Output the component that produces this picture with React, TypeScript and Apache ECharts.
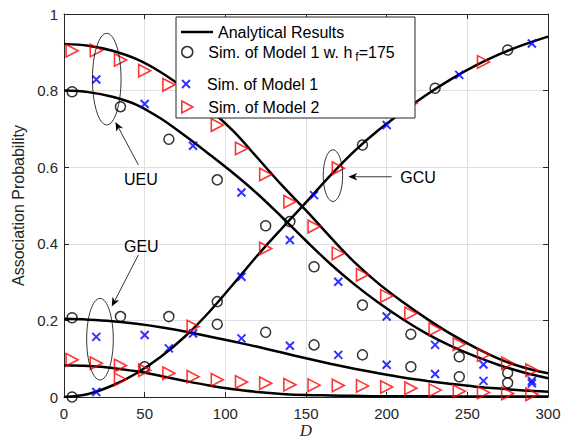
import React, { useEffect, useRef } from "react";
import * as echarts from "echarts";

// ---------- axis ticks ----------
const xTickValues = [0, 50, 100, 150, 200, 250, 300];
const yTickValues = [0, 0.2, 0.4, 0.6, 0.8, 1];

// ---------- analytical curves (sampled every 15 m of D) ----------
const curveD = [0, 15, 30, 45, 60, 75, 90, 105, 120, 135, 150, 165, 180, 195, 210, 225, 240, 255, 270, 285, 300];
const anaUEU2 = [0.922, 0.917, 0.904, 0.882, 0.848, 0.804, 0.752, 0.694, 0.624, 0.553, 0.487, 0.418, 0.352, 0.296, 0.248, 0.204, 0.164, 0.129, 0.099, 0.077, 0.062];
const anaUEU1 = [0.800, 0.796, 0.784, 0.763, 0.727, 0.682, 0.634, 0.584, 0.530, 0.470, 0.408, 0.348, 0.294, 0.246, 0.203, 0.165, 0.133, 0.106, 0.083, 0.064, 0.049];
const anaGCU = [0.000, 0.008, 0.030, 0.062, 0.105, 0.158, 0.222, 0.295, 0.370, 0.440, 0.508, 0.578, 0.642, 0.697, 0.745, 0.790, 0.830, 0.865, 0.895, 0.920, 0.941];
const anaGEU1 = [0.204, 0.202, 0.198, 0.191, 0.182, 0.171, 0.158, 0.145, 0.131, 0.116, 0.101, 0.087, 0.074, 0.062, 0.051, 0.042, 0.034, 0.027, 0.022, 0.017, 0.014];
const anaGEU2 = [0.083, 0.081, 0.076, 0.067, 0.055, 0.042, 0.030, 0.020, 0.013, 0.008, 0.005, 0.004, 0.003, 0.002, 0.002, 0.002, 0.001, 0.001, 0.001, 0.001, 0.001];

// ---------- Sim. of Model 1 w. h_f=175 (circles) ----------
const circD = [5, 35, 65, 95, 125, 155, 185, 215, 245, 275];
const circUEU = [0.797, 0.758, 0.673, 0.567, 0.447, 0.340, 0.240, 0.164, 0.105, 0.063];
const circGEU = [0.207, 0.210, 0.210, 0.190, 0.169, 0.136, 0.110, 0.079, 0.053, 0.037];
const circGcuD = [5, 50, 95, 140, 185, 230, 275];
const circGCU = [0.000, 0.079, 0.249, 0.458, 0.658, 0.806, 0.906];

// ---------- Sim. of Model 1 (crosses) ----------
const crossD = [20, 50, 80, 110, 140, 170, 200, 230, 260, 290];
const crossUEU = [0.829, 0.765, 0.656, 0.534, 0.410, 0.301, 0.210, 0.136, 0.085, 0.042];
const crossGEU = [0.157, 0.162, 0.166, 0.153, 0.134, 0.110, 0.084, 0.060, 0.042, 0.036];
const crossGcuD = [20, 65, 110, 155, 200, 245, 290];
const crossGCU = [0.013, 0.127, 0.314, 0.527, 0.710, 0.841, 0.923];

// ---------- Sim. of Model 2 (triangles) ----------
const triD = [5, 20, 35, 50, 65, 80, 95, 110, 125, 140, 155, 170, 185, 200, 215, 230, 245, 260, 275, 290];
const triUEU = [0.904, 0.905, 0.880, 0.852, 0.815, 0.770, 0.710, 0.649, 0.581, 0.510, 0.445, 0.375, 0.319, 0.264, 0.218, 0.177, 0.138, 0.110, 0.088, 0.070];
const triGEU = [0.097, 0.088, 0.082, 0.070, 0.062, 0.053, 0.045, 0.039, 0.036, 0.032, 0.031, 0.030, 0.029, 0.026, 0.023, 0.018, 0.015, 0.012, 0.009, 0.007];
const triGcuD = [35, 80, 125, 170, 215, 260];
const triGCU = [0.046, 0.184, 0.388, 0.597, 0.767, 0.875];

// ---------- names ----------
const NAME_ANA = "Analytical Results";
const NAME_C = "Sim. of Model 1 w. hf=175";
const NAME_X = "Sim. of Model 1";
const NAME_T = "Sim. of Model 2";

// ---------- annotations (data coords) ----------
const annotations = [
  { label: "UEU", ellipse: [26.5, 0.83], rx: 14.3, ry: 45.8, tail: [46.1, 0.606], tip: [31.9, 0.718], text: [47.7, 0.569] },
  { label: "GCU", ellipse: [166.7, 0.578], rx: 9.7, ry: 25.8, tail: [203.1, 0.575], tip: [176.2, 0.575], text: [219.4, 0.574] },
  { label: "GEU", ellipse: [22.3, 0.151], rx: 13.3, ry: 40.8, tail: [46.1, 0.371], tip: [29.6, 0.236], text: [47.9, 0.393] },
];

const FONT = "'Liberation Sans', Arial, Helvetica, sans-serif";
const AX = "#262626";
const GRIDC = "#e0e0e0";

const zip = (xs: number[], ys: number[]) => xs.map((x, i) => [x, ys[i]]);

export default function App() {
  const ref = useRef<HTMLDivElement>(null);

  useEffect(() => {
    document.body.style.margin = "0";
    const el = ref.current!;
    const chart = echarts.init(el, null, { renderer: "svg" });

    const lines = [anaUEU2, anaUEU1, anaGCU, anaGEU1, anaGEU2].map((ys) => ({
      type: "line",
      name: NAME_ANA,
      data: zip(curveD, ys),
      smooth: 0.35,
      symbol: "none",
      silent: true,
      lineStyle: { color: "#000", width: 2.5 },
      itemStyle: { color: "#000" },
      z: 3,
    }));

    const circleStyle = { color: "transparent", borderColor: "#000", borderWidth: 1.5 };
    const crossStyle = { color: "transparent", borderColor: "#0000ff", borderWidth: 2 };
    const triStyle = { color: "transparent", borderColor: "#ff0000", borderWidth: 1.6 };
    const XPATH = "path://M0,0L10,10M0,10L10,0";
    const TPATH = "path://M0,0L12,6.5L0,13Z";

    const scat = (name: string, data: number[][], symbol: string, size: any, style: any) => ({
      type: "scatter",
      name,
      data,
      symbol,
      symbolSize: size,
      itemStyle: style,
      clip: false,
      silent: true,
      z: 4,
    });

    const scatters = [
      scat(NAME_C, zip(circD, circUEU), "circle", 10, circleStyle),
      scat(NAME_C, zip(circGcuD, circGCU), "circle", 10, circleStyle),
      scat(NAME_C, zip(circD, circGEU), "circle", 10, circleStyle),
      scat(NAME_X, zip(crossD, crossUEU), XPATH, 8, crossStyle),
      scat(NAME_X, zip(crossGcuD, crossGCU), XPATH, 8, crossStyle),
      scat(NAME_X, zip(crossD, crossGEU), XPATH, 8, crossStyle),
      scat(NAME_T, zip(triD, triUEU), TPATH, [12, 12.5], triStyle),
      scat(NAME_T, zip(triGcuD, triGCU), TPATH, [12, 12.5], triStyle),
      scat(NAME_T, zip(triD, triGEU), TPATH, [12, 12.5], triStyle),
    ];

    const legendBase = {
      left: 181,
      orient: "horizontal",
      padding: 0,
      itemWidth: 32,
      itemGap: 0,
      selectedMode: false,
      z: 20,
      textStyle: { fontSize: 16, fontFamily: FONT, color: "#000" },
    };

    const xMin = xTickValues[0];
    const xMax = xTickValues[xTickValues.length - 1];
    const xInt = xTickValues[1] - xTickValues[0];
    const yMin = yTickValues[0];
    const yMax = yTickValues[yTickValues.length - 1];
    const yInt = yTickValues[1] - yTickValues[0];

    const axisCommon = {
      axisLine: { show: true, onZero: false, lineStyle: { color: AX, width: 1 } },
      axisTick: { show: true, inside: true, length: 5, lineStyle: { color: AX, width: 1 } },
    };

    chart.setOption({
      animation: false,
      backgroundColor: "#fff",
      grid: { left: 64, right: 16, top: 14, bottom: 45, show: false, outerBoundsMode: "none", containLabel: false },
      xAxis: [
        {
          type: "value",
          min: xMin,
          max: xMax,
          interval: xInt,
          position: "bottom",
          name: "D",
          nameLocation: "middle",
          nameGap: 25,
          nameMoveOverlap: false,
          nameTextStyle: { fontFamily: "'Liberation Serif', 'DejaVu Serif', serif", fontStyle: "italic", fontSize: 17, color: AX },
          ...axisCommon,
          axisLabel: { color: AX, fontSize: 15, fontFamily: FONT, margin: 9 },
          splitLine: { show: true, lineStyle: { color: GRIDC, width: 1 } },
        },
        {
          type: "value",
          min: xMin,
          max: xMax,
          interval: xInt,
          position: "top",
          ...axisCommon,
          axisLabel: { show: false },
          splitLine: { show: false },
        },
      ],
      yAxis: [
        {
          type: "value",
          min: yMin,
          max: yMax,
          interval: yInt,
          position: "left",
          name: "Association Probability",
          nameLocation: "middle",
          nameGap: 38,
          nameTextStyle: { fontFamily: FONT, fontSize: 16, color: AX },
          ...axisCommon,
          axisLabel: { color: AX, fontSize: 15, fontFamily: FONT, margin: 6 },
          splitLine: { show: true, lineStyle: { color: GRIDC, width: 1 } },
        },
        {
          type: "value",
          min: yMin,
          max: yMax,
          interval: yInt,
          position: "right",
          ...axisCommon,
          axisLabel: { show: false },
          splitLine: { show: false },
        },
      ],
      legend: [
        { ...legendBase, top: 24, itemHeight: 2.5, icon: "rect", data: [NAME_ANA], itemStyle: { color: "#000", borderWidth: 0 } },
        {
          ...legendBase,
          top: 44,
          itemHeight: 11,
          data: [NAME_C],
          itemStyle: { borderWidth: 1.5 },
          formatter: () => "{a|Sim. of Model 1 w. h}{s|f}{a|=175}",
          textStyle: {
            fontSize: 16,
            fontFamily: FONT,
            color: "#000",
            rich: {
              a: { fontSize: 16, fontFamily: FONT, color: "#000", verticalAlign: "middle" },
              s: { fontSize: 12, fontFamily: FONT, color: "#000", padding: [10, 0, 0, 3], verticalAlign: "middle" },
            },
          },
        },
        { ...legendBase, top: 76, itemHeight: 8, data: [NAME_X], itemStyle: { borderWidth: 2 } },
        { ...legendBase, top: 99, itemHeight: 12, data: [NAME_T], itemStyle: { borderWidth: 1.6 } },
      ],
      series: [...lines, ...scatters],
    });

    const px = (p: number[]) => chart.convertToPixel({ gridIndex: 0 }, p) as number[];
    const graphics: any[] = [
      {
        type: "rect",
        z: 10,
        shape: { x: 176, y: 17, width: 239, height: 101 },
        style: { fill: "#fff", stroke: AX, lineWidth: 1 },
      },
    ];
    annotations.forEach((a) => {
      const c = px(a.ellipse);
      const t0 = px(a.tail);
      const t1 = px(a.tip);
      const tx = px(a.text);
      graphics.push({
        type: "ellipse",
        z: 6,
        shape: { cx: c[0], cy: c[1], rx: a.rx, ry: a.ry },
        style: { fill: "none", stroke: "#000", lineWidth: 0.8 },
      });
      const dx = t1[0] - t0[0];
      const dy = t1[1] - t0[1];
      const len = Math.hypot(dx, dy);
      const ux = dx / len, uy = dy / len;
      const nx = -uy, ny = ux;
      const L = 9, W = 3.8, N = 2.5;
      graphics.push({
        type: "line",
        z: 6,
        shape: { x1: t0[0], y1: t0[1], x2: t1[0] - ux * (L - N), y2: t1[1] - uy * (L - N) },
        style: { stroke: "#000", lineWidth: 0.8 },
      });
      graphics.push({
        type: "polygon",
        z: 6,
        shape: {
          points: [
            [t1[0], t1[1]],
            [t1[0] - ux * L + nx * W, t1[1] - uy * L + ny * W],
            [t1[0] - ux * (L - N), t1[1] - uy * (L - N)],
            [t1[0] - ux * L - nx * W, t1[1] - uy * L - ny * W],
          ],
        },
        style: { fill: "#000", stroke: "none" },
      });
      graphics.push({
        type: "text",
        z: 6,
        x: tx[0],
        y: tx[1],
        style: { text: a.label, fontSize: 16, fontFamily: FONT, fill: "#000", align: "center", verticalAlign: "middle" },
      });
    });
    chart.setOption({ graphic: graphics });

    return () => chart.dispose();
  }, []);

  return <div ref={ref} style={{ position: "absolute", left: 0, top: 0, width: 564, height: 442 }} />;
}
